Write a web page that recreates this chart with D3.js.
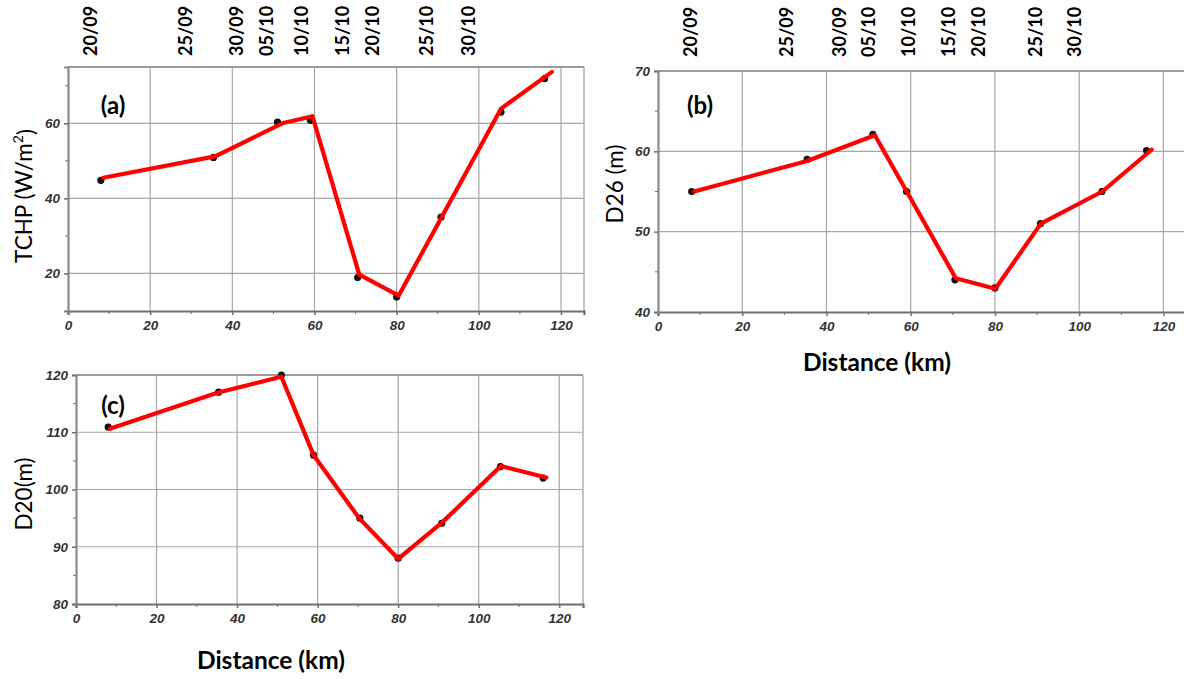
<!DOCTYPE html>
<html>
<head>
<meta charset="utf-8">
<script src="https://cdn.jsdelivr.net/npm/d3@7"></script>
<style>
  body { margin: 0; background: #fff; }
  svg { display: block; }
</style>
</head>
<body>
<svg id="chart" width="1184" height="679"></svg>
<script>
// dates along the track, shown on top of (a) and (b)
var dates = ["20/09", "25/09", "30/09", "05/10", "10/10", "15/10", "20/10", "25/10", "30/10"];
// where the date labels sit, read in km on each panel
var dateKmA = [5.4, 28.6, 41.1, 48.4, 56.9, 66.9, 74.2, 87.3, 97.4];
var dateKmB = [7.7, 30.5, 43.2, 49.9, 59.4, 68.9, 76.1, 89.6, 99.0];

// distance of the station points (km)
var distKm = [8, 35.4, 51, 59, 70.5, 80, 90.8, 105.4, 116];

// (a) TCHP
var tchpDots = [44.8, 50.9, 60.3, 60.8, 18.9, 13.7, 35, 63, 71.9];
var tchpLineKm = [8.6, 35.8, 52.4, 59.5, 70.9, 80.5, 105.4, 117.8];
var tchpLine = [45.5, 51.2, 60.1, 61.9, 19.7, 14.1, 63.9, 73.7];

// (b) D26
var d26Dots = [55, 59, 62.1, 55, 44, 43, 51, 55, 60.1];
var d26LineKm = [8.6, 35.4, 51.5, 70.7, 80.1, 90.9, 105.5, 117.2];
var d26Line = [55, 58.8, 62, 44.2, 42.9, 51, 55, 60.2];

// (c) D20
var d20Dots = [110.9, 117, 120, 106, 95, 88, 94.1, 104, 102];
var d20LineKm = [8.4, 35.1, 51, 59, 70.3, 80, 91, 105.5, 116.8];
var d20Line = [110.6, 116.9, 119.7, 106, 95, 87.9, 94.3, 104.1, 102.1];

var xTicks = [0, 20, 40, 60, 80, 100, 120];
var xMinor = [10, 30, 50, 70, 90, 110];

var svg = d3.select("#chart");

function tickFont(sel) {
    sel.attr("font-family", "'Liberation Sans', Arial, sans-serif")
        .attr("font-weight", "bold").attr("font-style", "italic")
        .attr("font-size", 13.5).attr("fill", "#333");
}

function drawPanel(p) {
    var g = svg.append("g");
    var x = d3.scaleLinear().domain(p.xDomain).range([p.left, p.right]);
    var y = d3.scaleLinear().domain(p.yDomain).range([p.bottom, p.top]);

    // clip for the panel that runs off the right edge
    var clipId = "clip" + p.tag.replace(/\W/g, "");
    svg.append("clipPath").attr("id", clipId).append("rect")
        .attr("x", p.left).attr("y", p.top - 6)
        .attr("width", p.right - p.left).attr("height", p.bottom - p.top + 12);

    // grid
    g.selectAll(".vgrid").data(xTicks.filter(function (d) { return d > 0; })).enter()
        .append("line")
        .attr("x1", function (d) { return x(d); }).attr("x2", function (d) { return x(d); })
        .attr("y1", p.top).attr("y2", p.bottom)
        .attr("stroke", "#a6a6a6").attr("stroke-width", 1.2);
    g.selectAll(".hgrid").data(p.yGrid).enter()
        .append("line")
        .attr("x1", p.left).attr("x2", p.right)
        .attr("y1", function (d) { return y(d); }).attr("y2", function (d) { return y(d); })
        .attr("stroke", "#a6a6a6").attr("stroke-width", 1.2);

    // frame
    g.append("line").attr("x1", p.left).attr("x2", p.right).attr("y1", p.top).attr("y2", p.top)
        .attr("stroke", "#9a9a9a").attr("stroke-width", 2);
    g.append("line").attr("x1", p.right).attr("x2", p.right).attr("y1", p.top).attr("y2", p.bottom)
        .attr("stroke", "#b0b0b0").attr("stroke-width", 1.5);

    // axes
    var xAxis = d3.axisBottom(x).tickValues(xTicks).tickSize(4).tickFormat(d3.format("d"));
    var gx = g.append("g").attr("transform", "translate(0," + p.bottom + ")").call(xAxis);
    gx.select(".domain").attr("stroke", "#6e6e6e").attr("stroke-width", 2.2);
    gx.selectAll(".tick line").attr("stroke", "#6e6e6e").attr("stroke-width", 1.5);
    gx.selectAll(".tick text").call(tickFont).attr("y", 9).attr("dy", "0.71em");
    g.selectAll(".xminor").data(xMinor).enter().append("line")
        .attr("x1", function (d) { return x(d); }).attr("x2", function (d) { return x(d); })
        .attr("y1", p.bottom).attr("y2", p.bottom + 3)
        .attr("stroke", "#6e6e6e").attr("stroke-width", 1);

    var yAxis = d3.axisLeft(y).tickValues(p.yTicks).tickSize(4).tickFormat(d3.format("d"));
    var gy = g.append("g").attr("transform", "translate(" + p.left + ",0)").call(yAxis);
    gy.select(".domain").attr("stroke", "#8a8a8a").attr("stroke-width", 2.2);
    gy.selectAll(".tick line").attr("stroke", "#6e6e6e").attr("stroke-width", 1.5);
    gy.selectAll(".tick text").call(tickFont).attr("x", -8);
    g.selectAll(".yminor").data(p.yMinor).enter().append("line")
        .attr("x1", p.left - 3).attr("x2", p.left)
        .attr("y1", function (d) { return y(d); }).attr("y2", function (d) { return y(d); })
        .attr("stroke", "#6e6e6e").attr("stroke-width", 1);

    // data
    var plot = g.append("g").attr("clip-path", "url(#" + clipId + ")");
    var lineData = p.lineKm.map(function (d, i) { return [d, p.lineVals[i]]; });
    plot.selectAll(".dot").data(p.dots).enter().append("circle")
        .attr("cx", function (d, i) { return x(distKm[i]); })
        .attr("cy", function (d) { return y(d); })
        .attr("r", 3.6).attr("fill", "#111");
    plot.append("path").datum(lineData)
        .attr("d", d3.line().x(function (d) { return x(d[0]); }).y(function (d) { return y(d[1]); }))
        .attr("fill", "none").attr("stroke", "#ff0000").attr("stroke-width", 4.2)
        .attr("stroke-linejoin", "round").attr("stroke-linecap", "round");

    // panel tag
    g.append("text")
        .attr("font-family", "Lato, sans-serif").attr("font-weight", "bold").attr("font-size", 24)
        .attr("x", p.tagPos[0]).attr("y", p.tagPos[1]).attr("text-anchor", "middle").attr("dy", "0.35em")
        .text(p.tag);

    // y title
    var yt = g.append("text")
        .attr("font-family", "Lato, sans-serif").attr("font-size", 22.5).attr("text-anchor", "middle")
        .attr("transform", "translate(" + p.yTitlePos[0] + "," + p.yTitlePos[1] + ") rotate(-90)")
        .attr("dy", "0.35em");
    if (p.ySup) {
        yt.append("tspan").text(p.yTitle);
        yt.append("tspan").attr("font-size", 14).attr("dy", "-0.6em").text(p.ySup);
        yt.append("tspan").attr("dy", "0.45em").text(")");
    } else {
        yt.text(p.yTitle);
    }

    // x title
    if (p.xTitlePos) {
        g.append("text")
            .attr("font-family", "Lato, sans-serif").attr("font-weight", "bold").attr("font-size", 24.5)
            .attr("text-anchor", "middle")
            .attr("x", p.xTitlePos[0]).attr("y", p.xTitlePos[1]).attr("dy", "0.35em")
            .text("Distance (km)");
    }

    // dates on top
    if (p.dateKm) {
        g.selectAll(".date").data(dates).enter().append("text")
            .attr("font-family", "Lato, sans-serif").attr("font-weight", "bold").attr("font-size", 18)
            .attr("transform", function (d, i) { return "translate(" + x(p.dateKm[i]) + "," + p.dateBase + ") rotate(-90)"; })
            .attr("dy", "0.36em")
            .text(function (d) { return d; });
    }
}

drawPanel({
    tag: "(a)", left: 68, right: 584, top: 67, bottom: 311,
    xDomain: [0, 125.6], yDomain: [10, 75],
    yTicks: [20, 40, 60], yMinor: [10, 30, 50, 70], yGrid: [20, 40, 60],
    dots: tchpDots, lineKm: tchpLineKm, lineVals: tchpLine,
    tagPos: [113, 106], yTitle: "TCHP (W/m", ySup: "2", yTitlePos: [24, 196],
    dateKm: dateKmA, dateBase: 56
});
drawPanel({
    tag: "(b)", left: 658, right: 1187, top: 71, bottom: 312,
    xDomain: [0, 125.6], yDomain: [40, 70],
    yTicks: [40, 50, 60, 70], yMinor: [45, 55, 65], yGrid: [50, 60],
    dots: d26Dots, lineKm: d26LineKm, lineVals: d26Line,
    tagPos: [700, 106], yTitle: "D26 (m)", yTitlePos: [615, 184],
    xTitlePos: [877, 362],
    dateKm: dateKmB, dateBase: 57
});
drawPanel({
    tag: "(c)", left: 76, right: 583, top: 375, bottom: 604,
    xDomain: [0, 125.9], yDomain: [80, 120],
    yTicks: [80, 90, 100, 110, 120], yMinor: [85, 95, 105, 115], yGrid: [90, 100, 110],
    dots: d20Dots, lineKm: d20LineKm, lineVals: d20Line,
    tagPos: [113, 406], yTitle: "D20(m)", yTitlePos: [24, 494],
    xTitlePos: [271, 660]
});
</script>
</body>
</html>
